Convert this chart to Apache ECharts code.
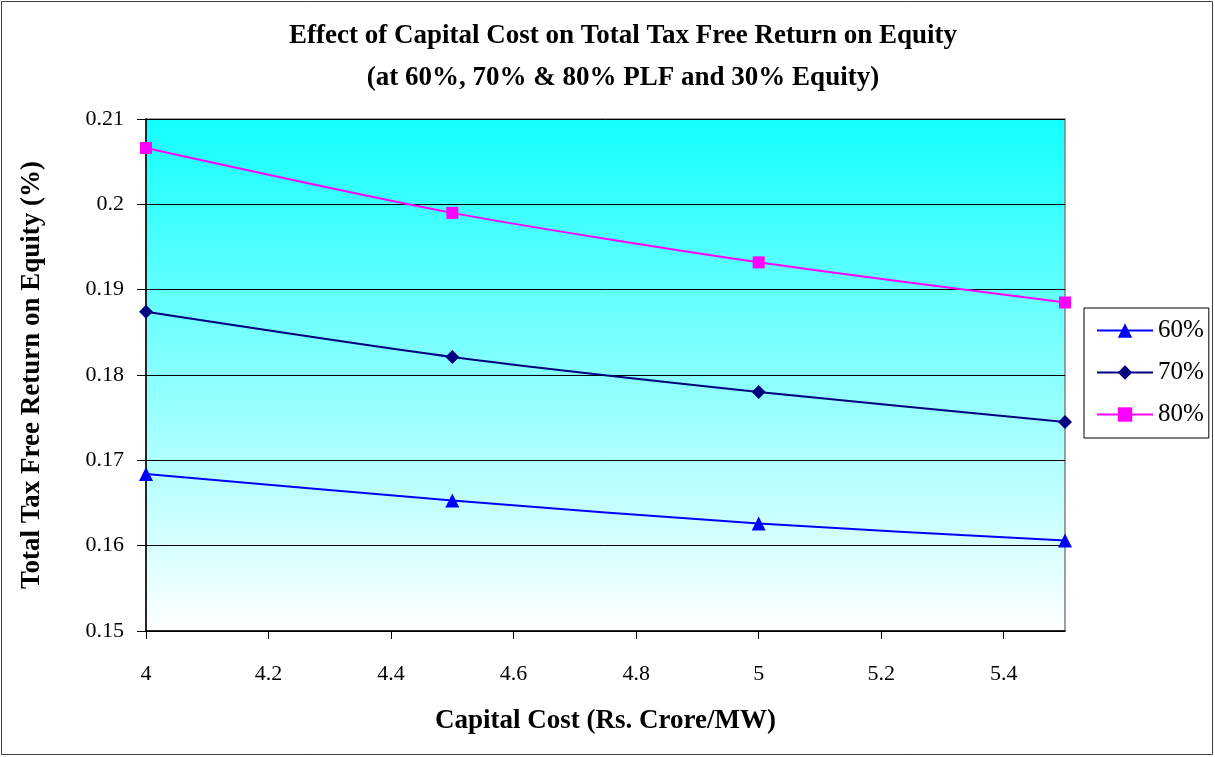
<!DOCTYPE html>
<html>
<head>
<meta charset="utf-8">
<script src="https://cdn.jsdelivr.net/npm/echarts@6/dist/echarts.min.js"></script>
<style>
  html, body { margin: 0; padding: 0; background: #fff; }
  #chart { width: 1215px; height: 757px; }
</style>
</head>
<body>
<div id="chart"></div>
<script>
// Capital cost (Rs. Crore/MW)
const capitalCost = [4, 4.5, 5, 5.5];
// Total tax free return on equity at each PLF
const plf60 = [0.1684, 0.1653, 0.1626, 0.1606];
const plf70 = [0.1874, 0.1821, 0.1780, 0.1745];
const plf80 = [0.2066, 0.1990, 0.1932, 0.1885];
const seriesNames = ['60%', '70%', '80%'];

const serif = '"Liberation Serif", "DejaVu Serif", serif';

function pairs(values) {
  return capitalCost.map((x, i) => [x, values[i]]);
}

const chart = echarts.init(document.getElementById('chart'));
chart.setOption({
  animation: false,
  backgroundColor: '#fff',
  graphic: [{
    type: 'rect',
    shape: { x: 1.5, y: 1.5, width: 1211, height: 753 },
    style: { fill: 'none', stroke: '#404040', lineWidth: 1 },
    silent: true
  }],
  title: {
    text: 'Effect of Capital Cost on Total Tax Free Return on Equity\n(at 60%, 70% & 80% PLF and 30% Equity)',
    left: 618,
    textAlign: 'center',
    top: 10,
    textStyle: {
      fontFamily: serif, fontWeight: 'bold', fontSize: 27,
      lineHeight: 42, color: '#000'
    }
  },
  legend: {
    orient: 'vertical',
    left: 1084,
    top: 308,
    padding: [9, 5, 10, 12],
    itemGap: 15,
    itemWidth: 56,
    itemHeight: 18,
    backgroundColor: '#fff',
    borderColor: '#000',
    borderWidth: 1,
    borderRadius: 0,
    textStyle: { fontFamily: serif, fontSize: 25, lineHeight: 27, color: '#000' },
    data: seriesNames
  },
  grid: {
    left: 146, right: 150, top: 119, bottom: 126,
    show: true,
    borderColor: '#808080',
    borderWidth: 1.5,
    backgroundColor: {
      type: 'linear', x: 0, y: 0, x2: 0, y2: 1,
      colorStops: [
        { offset: 0, color: '#12ffff' },
        { offset: 1, color: '#ffffff' }
      ]
    }
  },
  xAxis: {
    type: 'value',
    min: 4, max: 5.5, interval: 0.2,
    name: 'Capital Cost (Rs. Crore/MW)',
    nameLocation: 'middle',
    nameGap: 77,
    nameTextStyle: { fontFamily: serif, fontWeight: 'bold', fontSize: 27, color: '#000' },
    axisLine: { lineStyle: { color: '#000', width: 1.5 } },
    axisTick: { inside: false, length: 8, lineStyle: { color: '#000' } },
    axisLabel: {
      showMaxLabel: false, margin: 32,
      fontFamily: serif, fontSize: 22, color: '#000'
    },
    splitLine: { show: false }
  },
  yAxis: {
    type: 'value',
    min: 0.15, max: 0.21, interval: 0.01,
    name: 'Total Tax Free Return on Equity (%)',
    nameLocation: 'middle',
    nameGap: 100,
    nameTextStyle: { fontFamily: serif, fontWeight: 'bold', fontSize: 27, color: '#000' },
    axisLine: { show: true, lineStyle: { color: '#000', width: 1.5 } },
    axisTick: { show: true, length: 9, lineStyle: { color: '#000' } },
    axisLabel: {
      margin: 22, fontFamily: serif, fontSize: 22, color: '#000',
      formatter: v => String(+v.toFixed(2))
    },
    splitLine: { show: true, lineStyle: { color: '#000', width: 1 } }
  },
  series: [
    {
      name: seriesNames[0], type: 'line', data: pairs(plf60),
      smooth: 0.25, symbol: 'triangle', symbolSize: 14,
      color: '#0000ff', lineStyle: { width: 2, color: '#0000ff' },
      itemStyle: { color: '#0000ff' }
    },
    {
      name: seriesNames[1], type: 'line', data: pairs(plf70),
      smooth: 0.25, symbol: 'diamond', symbolSize: 14,
      color: '#000080', lineStyle: { width: 2, color: '#000080' },
      itemStyle: { color: '#000080' }
    },
    {
      name: seriesNames[2], type: 'line', data: pairs(plf80),
      smooth: 0.25, symbol: 'rect', symbolSize: 12,
      color: '#ff00ff', lineStyle: { width: 2, color: '#ff00ff' },
      itemStyle: { color: '#ff00ff' }
    }
  ]
});
</script>
</body>
</html>
